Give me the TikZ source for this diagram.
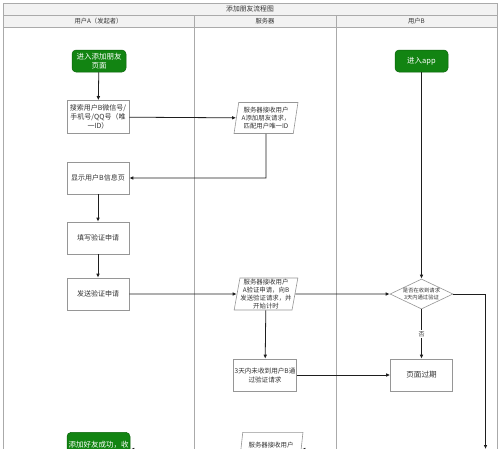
\documentclass[tikz,border=0pt]{standalone}
\usepackage{fontspec}
\setmainfont{Noto Sans CJK SC}
\usetikzlibrary{shapes.geometric,arrows.meta}
\definecolor{nodegreen}{RGB}{18,132,18}
\definecolor{greenedge}{RGB}{10,100,10}
\definecolor{boxgray}{RGB}{150,150,150}
\definecolor{lanegray}{RGB}{170,170,170}
\definecolor{headfill}{RGB}{242,242,242}
\definecolor{linecol}{RGB}{30,30,30}
\tikzset{
  lane/.style={draw=lanegray, line width=0.9pt},
  headcell/.style={draw=lanegray, line width=0.9pt, fill=headfill},
  headtext/.style={font=\fontsize{6.3}{7}\selectfont, text=black!80, inner sep=0pt},
  greenbox/.style={rectangle, rounded corners=4pt, fill=nodegreen, draw=greenedge, line width=0.5pt, text=white,
    minimum width=54pt, minimum height=22pt, align=center, inner sep=1pt,
    font=\fontsize{7.5}{9}\selectfont},
  procbox/.style={rectangle, draw=boxgray, line width=0.6pt, fill=white, minimum width=62pt, minimum height=32pt,
    align=center, inner sep=1pt, font=\fontsize{7}{9}\selectfont, text=black!80},
  iobox/.style={trapezium, trapezium left angle=79, trapezium right angle=101, trapezium stretches=true,
    draw=boxgray, line width=0.6pt, fill=white, minimum width=64pt, minimum height=31pt, align=center,
    inner sep=0pt, font=\fontsize{6.4}{7.8}\selectfont, text=black!80},
  decision/.style={diamond, draw=boxgray, line width=0.6pt, fill=white, minimum width=63pt, minimum height=30pt,
    inner sep=0pt},
  dectext/.style={align=center, inner sep=0pt, font=\fontsize{5.3}{7}\selectfont, text=black!80},
  flow/.style={draw=linecol, line width=0.8pt, -{Latex[length=4pt,width=3.6pt]}},
}
\begin{document}
\begin{tikzpicture}[x=1pt,y=-1pt]
\useasboundingbox (0,0) rectangle (500,448);
\fill[white] (0,0) rectangle (500,448);
% lanes
\draw[lane] (3,27) -- (3,460);
\draw[lane] (497,27) -- (497,460);
\draw[lane] (194,27) -- (194,460);
\draw[lane] (336,27) -- (336,460);
% title and headers
\draw[headcell] (3,3) rectangle (497,15);
\draw[headcell] (3,15) rectangle (194,27);
\draw[headcell] (194,15) rectangle (336,27);
\draw[headcell] (336,15) rectangle (497,27);
\node[headtext, font=\fontsize{6.8}{8}\selectfont] (title) at (250,9) {添加朋友流程图};
\node[headtext] (hA) at (98.5,21) {用户A（发起者）};
\node[headtext] (hS) at (265,21) {服务器};
\node[headtext] (hB) at (416.5,21) {用户B};

% nodes
\node[greenbox] (startA) at (99,61) {进入添加朋友\\页面};
\node[greenbox, minimum width=53pt] (startB) at (421.5,61) {进入app};
\node[procbox, minimum height=33pt] (search) at (98,117) {搜索用户B微信号/\\手机号/QQ号（唯\\一ID）};
\node[iobox] (p1) at (266,118) {服务器接收用户\\A添加朋友请求，\\匹配用户唯一ID};
\node[procbox] (show) at (98,178) {显示用户B信息页};
\node[procbox] (fill) at (98,238) {填写验证申请};
\node[procbox] (send) at (98,294) {发送验证申请};
\node[iobox, minimum height=32pt] (p2) at (266,294) {服务器接收用户\\A验证申请，向B\\发送验证请求，并\\开始计时};
\node[decision] (dec) at (421.5,294) {};
\node[dectext] (dectxt) at (421.5,294) {是否在收到请求\\3天内通过验证};
\node[procbox, font=\fontsize{6.6}{9}\selectfont] (wait) at (265,375) {3天内未收到用户B通\\过验证请求};
\node[procbox, font=\fontsize{7.6}{9}\selectfont] (expire) at (421.5,375) {页面过期};
\node[greenbox, minimum width=63pt, minimum height=34pt] (success) at (98.5,449.4) {添加好友成功，收\\[2pt]~};
\node[iobox, minimum height=34pt] (p3) at (271,449.4) {服务器接收用户\\[2pt]~};
\coordinate (bend1) at (266,178);
\coordinate (rturn) at (485.5,294);
\coordinate (rdown) at (485.5,449);
\coordinate (fromB) at (470,449.4);

% connectors
\draw[flow] (startA) -- (search);
\draw[flow] (search) -- (p1);
\draw[flow] (p1.south) -- (bend1) -- (show.east);
\draw[flow] (show) -- (fill);
\draw[flow] (fill) -- (send);
\draw[flow] (send) -- (p2);
\draw[flow] (p2) -- (dec);
\draw[flow] (startB) -- (dec);
\draw[flow] (dec) -- node[fill=white, inner sep=1pt, font=\fontsize{6}{7}\selectfont, text=black!80, pos=0.5] (no) {否} (expire);
\draw[flow] (p2) -- (wait);
\draw[flow] (wait) -- (expire);
\draw[flow] (dec.east) -- (rturn) -- (rdown);
\draw[flow] (p3) -- (success);
\draw[flow] (fromB) -- (p3);
\end{tikzpicture}
\end{document}
